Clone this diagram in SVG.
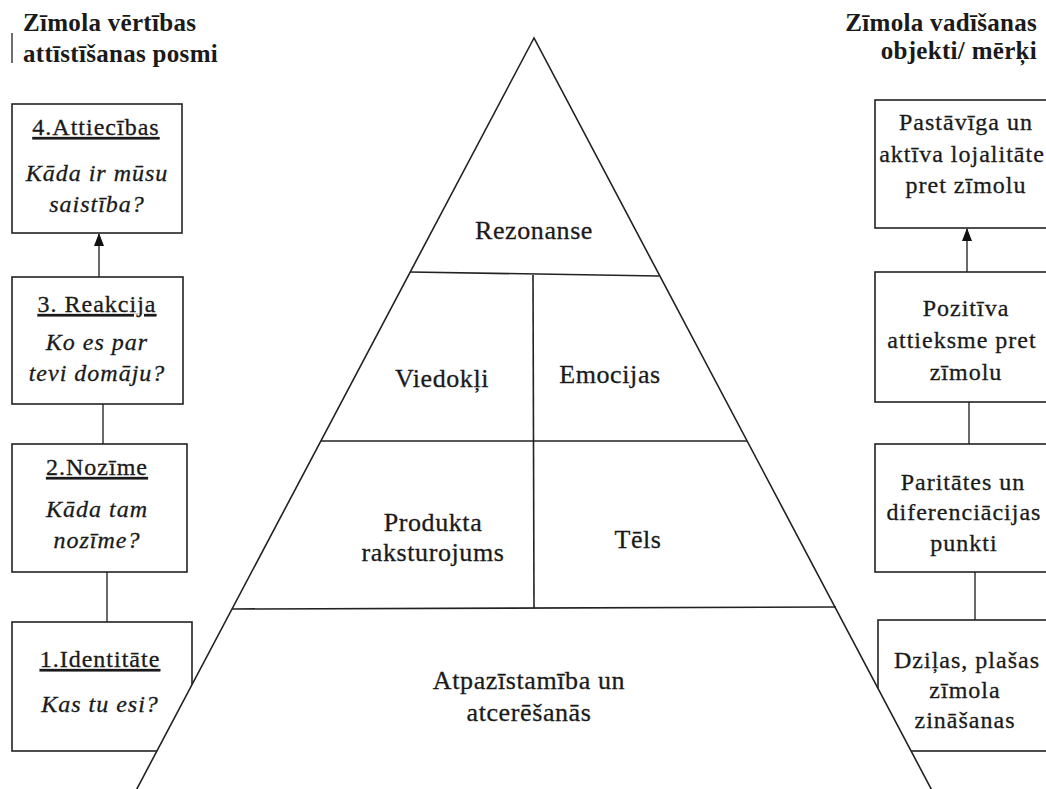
<svg xmlns="http://www.w3.org/2000/svg" width="1046" height="789" viewBox="0 0 1046 789">
  <style>
    text { font-family: "Liberation Serif", "Times New Roman", serif; fill: #1a1a1a; stroke: #1a1a1a; stroke-width: 0.3px; }
    .hdr { font-size: 25px; font-weight: bold; letter-spacing: 0.3px; stroke-width: 0; }
    .lbl { font-size: 24px; letter-spacing: 1px; text-anchor: middle; }
    .it { font-style: italic; }
    .u { text-decoration: underline; }
    .pyr { font-size: 26px; letter-spacing: 0.6px; text-anchor: middle; }
    .box { fill: #fff; stroke: #222; stroke-width: 1.6; }
    .edge { fill: none; stroke: #444; stroke-width: 1.6; }
    .tri { fill: #fff; stroke: #222; stroke-width: 1.6; }
    .div { fill: none; stroke: #222; stroke-width: 1.6; }
  </style>
  <defs>
    <marker id="arrow" viewBox="0 0 13 10" refX="12" refY="5" markerWidth="13" markerHeight="10" markerUnits="userSpaceOnUse" orient="auto">
      <path d="M0,0 L13,5 L0,10 Z" fill="#111"/>
    </marker>
  </defs>
  <rect width="1046" height="789" fill="#fff"/>

  <!-- column headings -->
  <g id="heading-left">
    <line x1="12" y1="33" x2="12" y2="63" stroke="#333" stroke-width="1.4"/>
    <text class="hdr" x="23" y="31">Zīmola vērtības</text>
    <text class="hdr" x="23" y="62">attīstīšanas posmi</text>
  </g>
  <g id="heading-right">
    <text class="hdr" x="1037" y="31" text-anchor="end">Zīmola vadīšanas</text>
    <text class="hdr" x="1037" y="59" text-anchor="end">objekti/ mērķi</text>
  </g>

  <!-- connectors between stage boxes -->
  <g id="connectors">
    <line class="edge" x1="99" y1="277" x2="99" y2="234" marker-end="url(#arrow)"/>
    <line class="edge" x1="103" y1="404" x2="103" y2="444"/>
    <line class="edge" x1="107" y1="572" x2="107" y2="622"/>
    <line class="edge" x1="967" y1="272" x2="967" y2="229" marker-end="url(#arrow)"/>
    <line class="edge" x1="969" y1="402" x2="969" y2="444"/>
    <line class="edge" x1="975" y1="572" x2="975" y2="620"/>
  </g>

  <!-- left column: brand value stages -->
  <g id="stage-4">
    <rect class="box" x="12" y="104" width="170" height="129"/>
    <text class="lbl u" x="96" y="135">4.Attiecības</text>
    <text class="lbl it" x="97" y="181">Kāda ir mūsu</text>
    <text class="lbl it" x="97" y="212">saistība?</text>
  </g>
  <g id="stage-3">
    <rect class="box" x="12" y="277" width="171" height="127"/>
    <text class="lbl u" x="97" y="312">3. Reakcija</text>
    <text class="lbl it" x="97" y="350">Ko es par</text>
    <text class="lbl it" x="97" y="381">tevi domāju?</text>
  </g>
  <g id="stage-2">
    <rect class="box" x="12" y="444" width="175" height="128"/>
    <text class="lbl u" x="97" y="475">2.Nozīme</text>
    <text class="lbl it" x="97" y="517">Kāda tam</text>
    <text class="lbl it" x="97" y="548">nozīme?</text>
  </g>
  <g id="stage-1">
    <rect class="box" x="12" y="622" width="180" height="129"/>
    <text class="lbl u" x="100" y="667">1.Identitāte</text>
    <text class="lbl it" x="100" y="712">Kas tu esi?</text>
  </g>

  <!-- right column: brand management goals -->
  <g id="goal-4">
    <rect class="box" x="875" y="100" width="200" height="128"/>
    <text class="lbl" x="966" y="130">Pastāvīga un</text>
    <text class="lbl" x="962" y="162">aktīva lojalitāte</text>
    <text class="lbl" x="966" y="193">pret zīmolu</text>
  </g>
  <g id="goal-3">
    <rect class="box" x="875" y="272" width="200" height="130"/>
    <text class="lbl" x="966" y="316">Pozitīva</text>
    <text class="lbl" x="962" y="348">attieksme pret</text>
    <text class="lbl" x="966" y="380">zīmolu</text>
  </g>
  <g id="goal-2">
    <rect class="box" x="875" y="444" width="200" height="128"/>
    <text class="lbl" x="963" y="490">Paritātes un</text>
    <text class="lbl" x="964" y="520">diferenciācijas</text>
    <text class="lbl" x="964" y="551">punkti</text>
  </g>
  <g id="goal-1">
    <rect class="box" x="878" y="620" width="200" height="131"/>
    <text class="lbl" x="967" y="668">Dziļas, plašas</text>
    <text class="lbl" x="965" y="698">zīmola</text>
    <text class="lbl" x="965" y="728">zināšanas</text>
  </g>

  <!-- brand resonance pyramid -->
  <g id="pyramid">
    <polygon class="tri" points="534,38 131,800 937,800"/>
    <line class="div" x1="410" y1="272" x2="659" y2="276"/>
    <line class="div" x1="321" y1="441" x2="747" y2="441"/>
    <line class="div" x1="232" y1="609" x2="836" y2="607"/>
    <line class="div" x1="533" y1="275" x2="534" y2="608"/>
  </g>
  <g id="level-resonance">
    <text class="pyr" x="534" y="239">Rezonanse</text>
  </g>
  <g id="level-judgements">
    <text class="pyr" x="442" y="387">Viedokļi</text>
  </g>
  <g id="level-feelings">
    <text class="pyr" x="610" y="383">Emocijas</text>
  </g>
  <g id="level-performance">
    <text class="pyr" x="433" y="531">Produkta</text>
    <text class="pyr" x="433" y="561">raksturojums</text>
  </g>
  <g id="level-imagery">
    <text class="pyr" x="638" y="548">Tēls</text>
  </g>
  <g id="level-salience">
    <text class="pyr" x="529" y="689">Atpazīstamība un</text>
    <text class="pyr" x="529" y="721">atcerēšanās</text>
  </g>
</svg>
